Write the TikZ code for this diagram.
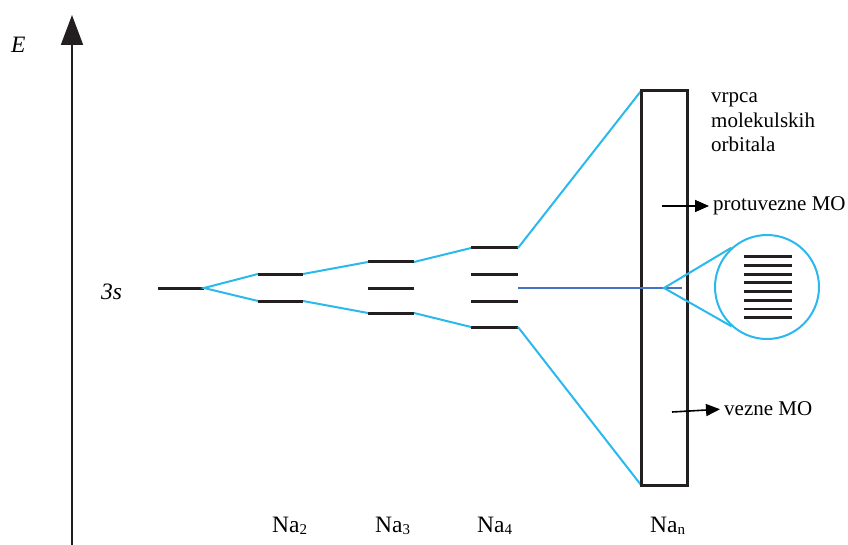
\documentclass[tikz,border=0pt]{standalone}
\usepackage{fontspec}
\setmainfont{Liberation Serif}
\newfontfamily\labelfont{Liberation Serif}
\usetikzlibrary{arrows.meta}

\definecolor{inkblack}{HTML}{231F20}
\definecolor{splitcyan}{HTML}{2BB8EC}
\definecolor{midblue}{HTML}{4472C4}

\tikzset{
    level/.style={draw=inkblack, line width=3pt},
    split/.style={draw=splitcyan, line width=2pt},
    sidetext/.style={font=\labelfont\fontsize{21}{24.5}\selectfont, inner sep=0pt},
    natext/.style={font=\labelfont\fontsize{23.5}{23.5}\selectfont, inner sep=0pt, anchor=base west},
    pointer/.style={draw=black, line width=1.6pt, -{Triangle[length=14pt,width=12pt]}, shorten >=4pt}
}
\newcommand{\nasub}[1]{\raisebox{-2.5pt}{\fontsize{15}{15}\selectfont #1}}

\begin{document}
\begin{tikzpicture}[x=1pt,y=-1pt]

    \useasboundingbox (0,0) rectangle (848,545);

    % energy axis
    \coordinate (axisB) at (72,545);
    \coordinate (axisT) at (72,15);
    \draw[draw=inkblack, line width=2pt, -{Triangle[length=30pt,width=22pt]}] (axisB) -- (axisT);
    \node[natext, font=\labelfont\fontsize{23.5}{23.5}\selectfont\itshape] (E) at (11,53) {E};
    \node[natext, font=\labelfont\fontsize{23.5}{23.5}\selectfont\itshape] (s3) at (101,299) {3s};

    % levels
    \coordinate (s3L) at (158,288); \coordinate (s3R) at (204,288);
    \coordinate (a1L) at (258,274); \coordinate (a1R) at (303,274);
    \coordinate (a2L) at (258,301); \coordinate (a2R) at (303,301);
    \coordinate (b1L) at (368,262); \coordinate (b1R) at (414,262);
    \coordinate (b2L) at (368,288); \coordinate (b2R) at (414,288);
    \coordinate (b3L) at (368,313); \coordinate (b3R) at (414,313);
    \coordinate (c1L) at (471,248); \coordinate (c1R) at (518,248);
    \coordinate (c2L) at (471,274); \coordinate (c2R) at (518,274);
    \coordinate (c3L) at (471,301); \coordinate (c3R) at (518,301);
    \coordinate (c4L) at (471,327); \coordinate (c4R) at (518,327);

    \foreach \lv in {s3,a1,a2,b1,b2,b3,c1,c2,c3,c4}
        \draw[level] (\lv L) -- (\lv R);

    \draw[split] (a1L) -- (s3R) -- (a2L);
    \draw[split] (a1R) -- (b1L);
    \draw[split] (a2R) -- (b3L);
    \draw[split] (b1R) -- (c1L);
    \draw[split] (b3R) -- (c4L);

    % band
    \coordinate (boxTL) at (641,91);
    \coordinate (boxBL) at (641,485);
    \coordinate (boxBR) at (687,485);
    \draw[split] (c1R) -- (boxTL);
    \draw[split] (c4R) -- (boxBL);
    \draw[draw=inkblack, line width=3pt] (boxTL) rectangle (boxBR);

    \coordinate (midL) at (518,288);
    \coordinate (midR) at (682,288);
    \draw[draw=midblue, line width=1.3pt] (midL) -- (midR);

    % zoomed band
    \node[circle, draw=splitcyan, line width=2pt, minimum size=104pt, inner sep=0pt] (lens) at (767,287) {};
    \coordinate (fan) at (664,288);
    \draw[split] (lens.132) -- (fan) -- (lens.228);
    \foreach \i in {0,...,7}
        \draw[draw=inkblack, line width=2.8pt] (744,256.7+8.7*\i) -- (792,256.7+8.7*\i);

    % labels
    \node[sidetext, anchor=base west, align=left] (vrpca) at (711,152) {vrpca\\molekulskih\\orbitala};

    \coordinate (pA) at (662,206);
    \node[sidetext, anchor=west] (protu) at (713,206) {protuvezne MO};
    \draw[pointer] (pA) -- (protu.west);

    \coordinate (vA) at (672,412);
    \node[sidetext, anchor=west] (vezne) at (724,409) {vezne MO};
    \draw[pointer] (vA) -- (vezne.west);

    \node[natext] (na2) at (272,532) {Na\nasub{2}};
    \node[natext] (na3) at (375,532) {Na\nasub{3}};
    \node[natext] (na4) at (477,532) {Na\nasub{4}};
    \node[natext] (nan) at (650,532) {Na\nasub{n}};

\end{tikzpicture}
\end{document}
